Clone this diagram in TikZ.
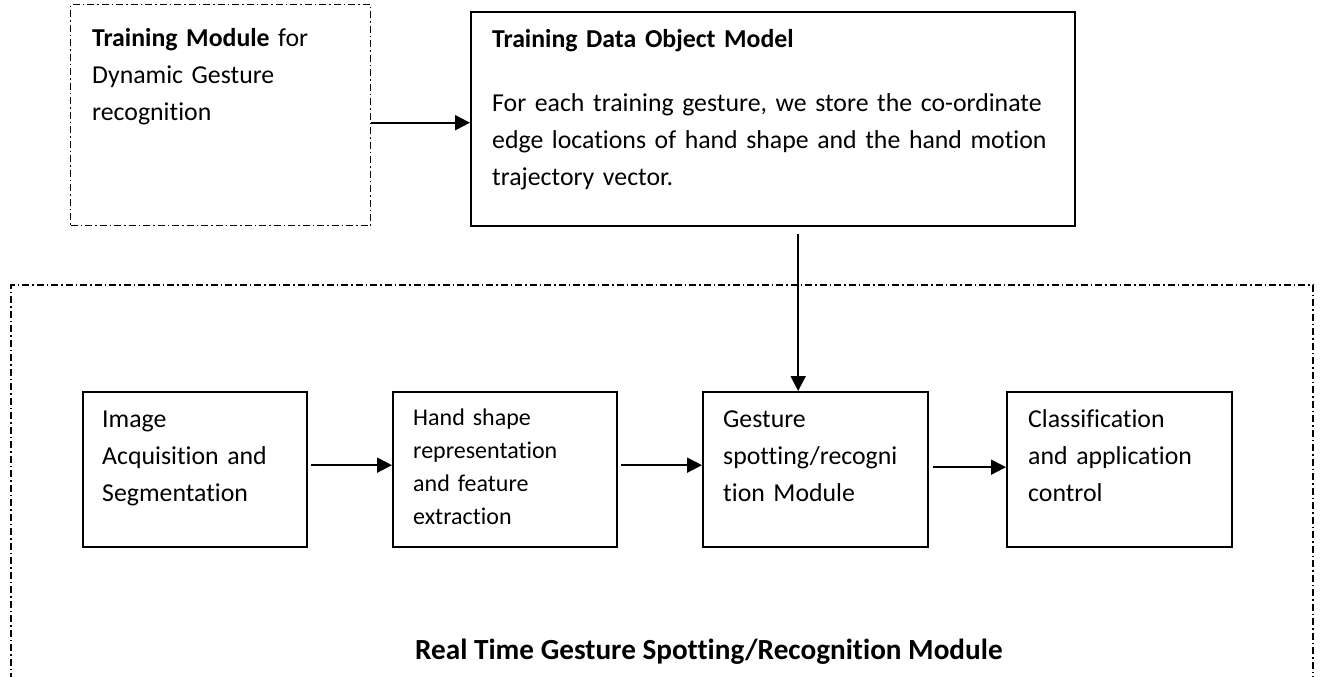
\documentclass[tikz,border=0pt]{standalone}
\usepackage{fontspec}
\setmainfont{Carlito}[Ligatures={NoCommon}]
\usetikzlibrary{arrows.meta,calc}

\tikzset{
  solidbox/.style={draw=black, line width=2.3pt, fill=none, inner sep=0pt, anchor=north west},
  dashbox/.style={draw=black, line width=1.4pt, dash pattern=on 7pt off 3pt on 1.5pt off 3pt, inner sep=0pt, anchor=north west},
  arr/.style={draw=black, line width=2pt, -{Triangle[length=15pt,width=15pt]}},
  txt/.style={anchor=base west, inner sep=0pt, align=left, text width=640pt,
              font=\fontsize{25.8}{37}\selectfont},
  smalltxt/.style={txt, font=\fontsize{24}{33}\selectfont},
}

\begin{document}
\begin{tikzpicture}[x=1pt, y=-1pt]
\useasboundingbox (0,0) rectangle (1320,677);

% upper row: training module and stored data model
\node[dashbox, minimum width=300pt, minimum height=221pt] (trmod) at (70,4) {};
\node[solidbox, minimum width=604pt, minimum height=214pt] (tdom) at (470,11) {};

\node[txt] (trmodtxt) at (92,47) {\textbf{Training Module} for\\Dynamic Gesture\\recognition};
\node[txt] (tdomtitle) at (492,48) {\textbf{Training Data Object Model}};
\node[txt] (tdombody) at (492,111) {For each training gesture, we store the co-ordinate\\edge locations of hand shape and the hand motion\\trajectory vector.};

% real-time module frame (open at the bottom edge)
\draw[line width=1.4pt, dash pattern=on 7pt off 3pt on 1.5pt off 3pt]
  (11,680) -- (11,285) -- (1313,285) -- (1313,680);

% processing chain
\node[solidbox, minimum width=224pt, minimum height=155pt] (img)  at (82,391) {};
\node[solidbox, minimum width=224pt, minimum height=155pt] (hand) at (392,391) {};
\node[solidbox, minimum width=225pt, minimum height=155pt] (gest) at (702,391) {};
\node[solidbox, minimum width=225pt, minimum height=155pt] (cls)  at (1006,391) {};

\node[txt] (imgtxt) at (102,427) {Image\\Acquisition and\\Segmentation};
\node[smalltxt] (handtxt) at (413,425) {Hand shape\\representation\\and feature\\extraction};
\node[txt] (gesttxt) at (723,427) {Gesture\\spotting/recogni\\tion Module};
\node[txt] (clstxt) at (1028,427) {Classification\\and application\\control};

\node[anchor=base west, inner sep=0pt, font=\fontsize{29.2}{34}\selectfont\bfseries] (title) at (415,659)
  {Real Time Gesture Spotting/Recognition Module};

% connectors
\draw[arr] ([yshift=-7.5pt]trmod.east) -- ([yshift=-7.5pt]trmod.east -| tdom.west);
\draw[arr] ([xshift=25pt,yshift=-7pt]tdom.south) -- ([xshift=25pt]tdom.south |- gest.north);
\draw[arr, shorten <=3pt] ([yshift=4.5pt]img.east) -- ([yshift=4.5pt]img.east -| hand.west);
\draw[arr, shorten <=3pt] ([yshift=4.5pt]hand.east) -- ([yshift=4.5pt]hand.east -| gest.west);
\draw[arr, shorten <=4pt] ([yshift=2.5pt]gest.east) -- ([yshift=2.5pt]gest.east -| cls.west);
\end{tikzpicture}
\end{document}
